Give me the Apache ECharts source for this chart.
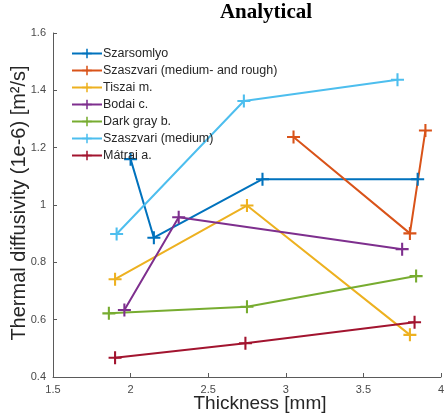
<!DOCTYPE html>
<html>
<head>
<meta charset="utf-8">
<script src="https://cdn.jsdelivr.net/npm/echarts@6/dist/echarts.min.js"></script>
<style>
  html, body { margin: 0; padding: 0; background: #fff; }
  #chart { width: 447px; height: 415px; }
</style>
</head>
<body>
<div id="chart"></div>
<script>
// Thickness [mm] (x) and thermal diffusivity [1e-6 m^2/s] (y) per sample
const seriesNames = [
  'Szarsomlyo',
  'Szaszvari (medium- and rough)',
  'Tiszai m.',
  'Bodai c.',
  'Dark gray b.',
  'Szaszvari (medium)',
  'Mátrai a.'
];

const szarsomlyoX = [2.00, 2.15, 2.85, 3.85];
const szarsomlyoY = [1.16, 0.886, 1.09, 1.09];

const szaszvariRoughX = [3.05, 3.80, 3.90];
const szaszvariRoughY = [1.237, 0.901, 1.26];

const tiszaiX = [1.90, 2.75, 3.80];
const tiszaiY = [0.741, 0.998, 0.547];

const bodaiX = [1.96, 2.31, 3.75];
const bodaiY = [0.634, 0.957, 0.846];

const darkGrayX = [1.86, 2.75, 3.84];
const darkGrayY = [0.622, 0.645, 0.752];

const szaszvariMediumX = [1.91, 2.73, 3.72];
const szaszvariMediumY = [0.899, 1.363, 1.437];

const matraiX = [1.90, 2.74, 3.83];
const matraiY = [0.467, 0.518, 0.591];

const xTicks = { min: 1.5, max: 4, step: 0.5 };
const yTicks = { min: 0.4, max: 1.6, step: 0.2 };

const seriesX = [szarsomlyoX, szaszvariRoughX, tiszaiX, bodaiX, darkGrayX, szaszvariMediumX, matraiX];
const seriesY = [szarsomlyoY, szaszvariRoughY, tiszaiY, bodaiY, darkGrayY, szaszvariMediumY, matraiY];

const palette = ['#0072BD', '#D95319', '#EDB120', '#7E2F8E', '#77AC30', '#4DBEEE', '#A2142F'];

// plus-shaped marker built from two filled bars
const plusSymbol = 'path://M0,4.2H10V5.8H0Z M4.2,0H5.8V10H4.2Z';

const axisColor = '#5a5a5a';
const labelColor = '#4a4a4a';

const chart = echarts.init(document.getElementById('chart'), null, { renderer: 'canvas' });

const series = seriesNames.map((name, i) => ({
  name: name,
  type: 'line',
  data: seriesX[i].map((x, j) => [x, seriesY[i][j]]),
  symbol: plusSymbol,
  symbolSize: 13,
  showAllSymbol: true,
  lineStyle: { width: 2, color: palette[i] },
  itemStyle: { color: palette[i] },
  emphasis: { disabled: true },
  animation: false
}));

chart.setOption({
  animation: false,
  color: palette,
  grid: { left: 53, right: 4, top: 33, bottom: 38, containLabel: false },
  legend: {
    orient: 'vertical',
    left: 66,
    top: 42,
    itemWidth: 30,
    itemHeight: 12,
    itemGap: 4,
    data: seriesNames,
    textStyle: { fontFamily: 'Liberation Sans', fontSize: 12.5, color: '#262626', padding: [0, 0, 0, -4] }
  },
  xAxis: {
    type: 'value',
    min: xTicks.min,
    max: xTicks.max,
    interval: xTicks.step,
    axisLine: { lineStyle: { color: axisColor, width: 1 } },
    axisTick: { inside: true, length: 4, lineStyle: { color: axisColor } },
    axisLabel: { color: labelColor, fontFamily: 'Liberation Sans', fontSize: 11, margin: 7 },
    splitLine: { show: false }
  },
  yAxis: {
    type: 'value',
    min: yTicks.min,
    max: yTicks.max,
    interval: yTicks.step,
    axisLine: { show: true, lineStyle: { color: axisColor, width: 1 } },
    axisTick: { show: true, inside: true, length: 4, lineStyle: { color: axisColor } },
    axisLabel: { color: labelColor, fontFamily: 'Liberation Sans', fontSize: 11, margin: 7 },
    splitLine: { show: false }
  },
  graphic: [
    {
      type: 'text',
      x: 266,
      y: 13,
      style: {
        text: 'Analytical',
        font: 'bold 21px "Liberation Serif"',
        fill: '#000',
        textAlign: 'center',
        textVerticalAlign: 'middle'
      }
    },
    {
      type: 'text',
      x: 260,
      y: 404,
      style: {
        text: 'Thickness [mm]',
        font: '19px "Liberation Sans"',
        fill: '#262626',
        textAlign: 'center',
        textVerticalAlign: 'middle'
      }
    },
    {
      type: 'text',
      x: 19,
      y: 203,
      rotation: Math.PI / 2,
      style: {
        text: 'Thermal diffusivity (1e-6) [m²/s]',
        font: '20px "Liberation Sans"',
        fill: '#262626',
        textAlign: 'center',
        textVerticalAlign: 'middle'
      }
    }
  ],
  series: series
});
</script>
</body>
</html>
